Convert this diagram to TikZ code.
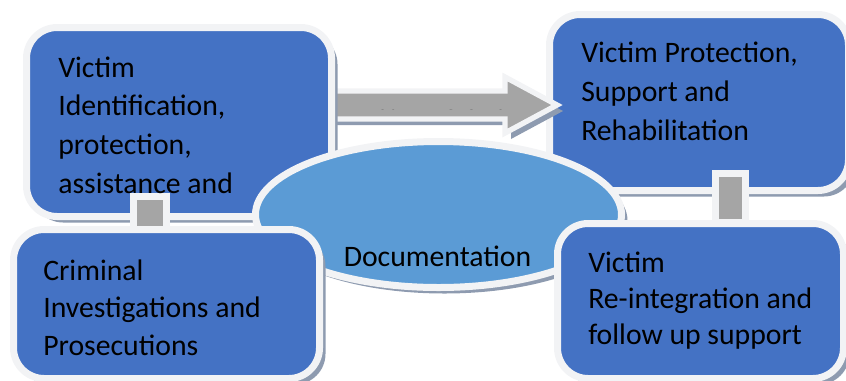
\documentclass[tikz,border=0pt]{standalone}
\usepackage{fontspec}
\setmainfont{Carlito}
\usetikzlibrary{shadows,shapes.geometric}
\definecolor{boxblue}{HTML}{4472C4}
\definecolor{ellblue}{HTML}{5B9BD5}
\definecolor{rim}{HTML}{F2F3F5}
\definecolor{shade}{HTML}{8E9BB0}
\definecolor{arrowgray}{HTML}{A5A5A5}
\begin{document}
\begin{tikzpicture}[x=0.75pt,y=-0.75pt,
  shadowed/.style={drop shadow={shadow xshift=4.5pt,shadow yshift=-4.5pt,fill=shade,opacity=1}},
  panel/.style={shape=rectangle,draw=rim,line width=5.25pt,fill=boxblue,rounded corners=23pt,inner sep=0pt,shadowed},
  oval/.style={shape=ellipse,draw=rim,line width=5.25pt,fill=ellblue,inner sep=0pt,shadowed},
  link/.style={shape=rectangle,draw=rim,line width=5.25pt,fill=arrowgray,inner sep=0pt},
  txt/.style={anchor=base west,align=left,inner sep=0pt,text=black},
  bigarrow/.style={draw=rim,line width=4pt,fill=arrowgray,line join=miter,shadowed}
]
\useasboundingbox (0,0) rectangle (846,380);
% top right box
\node[panel,minimum width=224.25pt,minimum height=132pt] (B) at (699,102.5) {};
% referral arrow
\coordinate (ta) at (320,91);
\coordinate (tb) at (320,119);
\draw[bigarrow] (ta) -- (505,91) -- (505,77) -- (557,105) coordinate (tip) -- (505,133) -- (505,119) -- (tb) -- cycle;
% the label is hidden except for the bottom of its letters
\begin{scope}
\clip (338,109.0) rectangle (540,111);
\node[txt,font=\fontsize{20}{29}\selectfont] (ref) at (355,109.6) {Victim Referral};
\end{scope}
% top left box
\node[panel,minimum width=228.75pt,minimum height=141.75pt] (A) at (179,122) {};
% documentation ellipse
\node[oval,minimum width=274.5pt,minimum height=109.5pt] (E) at (438.5,214.5) {};
% links
\node[link,minimum width=24.75pt,minimum height=26.25pt] (L1) at (150,214) {};
\node[link,minimum width=22.5pt,minimum height=36.4pt] (L2) at (730.5,198) {};
% bottom boxes
\node[panel,minimum width=229.5pt,minimum height=111.75pt] (C) at (166.5,304) {};
\node[panel,minimum width=214.5pt,minimum height=116.25pt] (D) at (700.5,301) {};
% texts (base anchor = last line)
\node[txt,font=\fontsize{22.3}{29}\selectfont] (At) at (58,193) {Victim\\Identification,\\protection,\\assistance and};
\node[txt,font=\fontsize{22.3}{28.9}\selectfont] (Bt) at (581,140) {Victim Protection,\\Support and\\Rehabilitation};
\node[txt,font=\fontsize{22.3}{28.1}\selectfont] (Ct) at (43,355) {Criminal\\Investigations and\\Prosecutions};
\node[txt,font=\fontsize{22.3}{27}\selectfont] (Dt) at (588,344) {Victim\\Re-integration and\\follow up support};
\node[anchor=base,inner sep=0pt,font=\fontsize{22.3}{29}\selectfont] (Et) at (437.5,266) {Documentation};
\end{tikzpicture}
\end{document}
